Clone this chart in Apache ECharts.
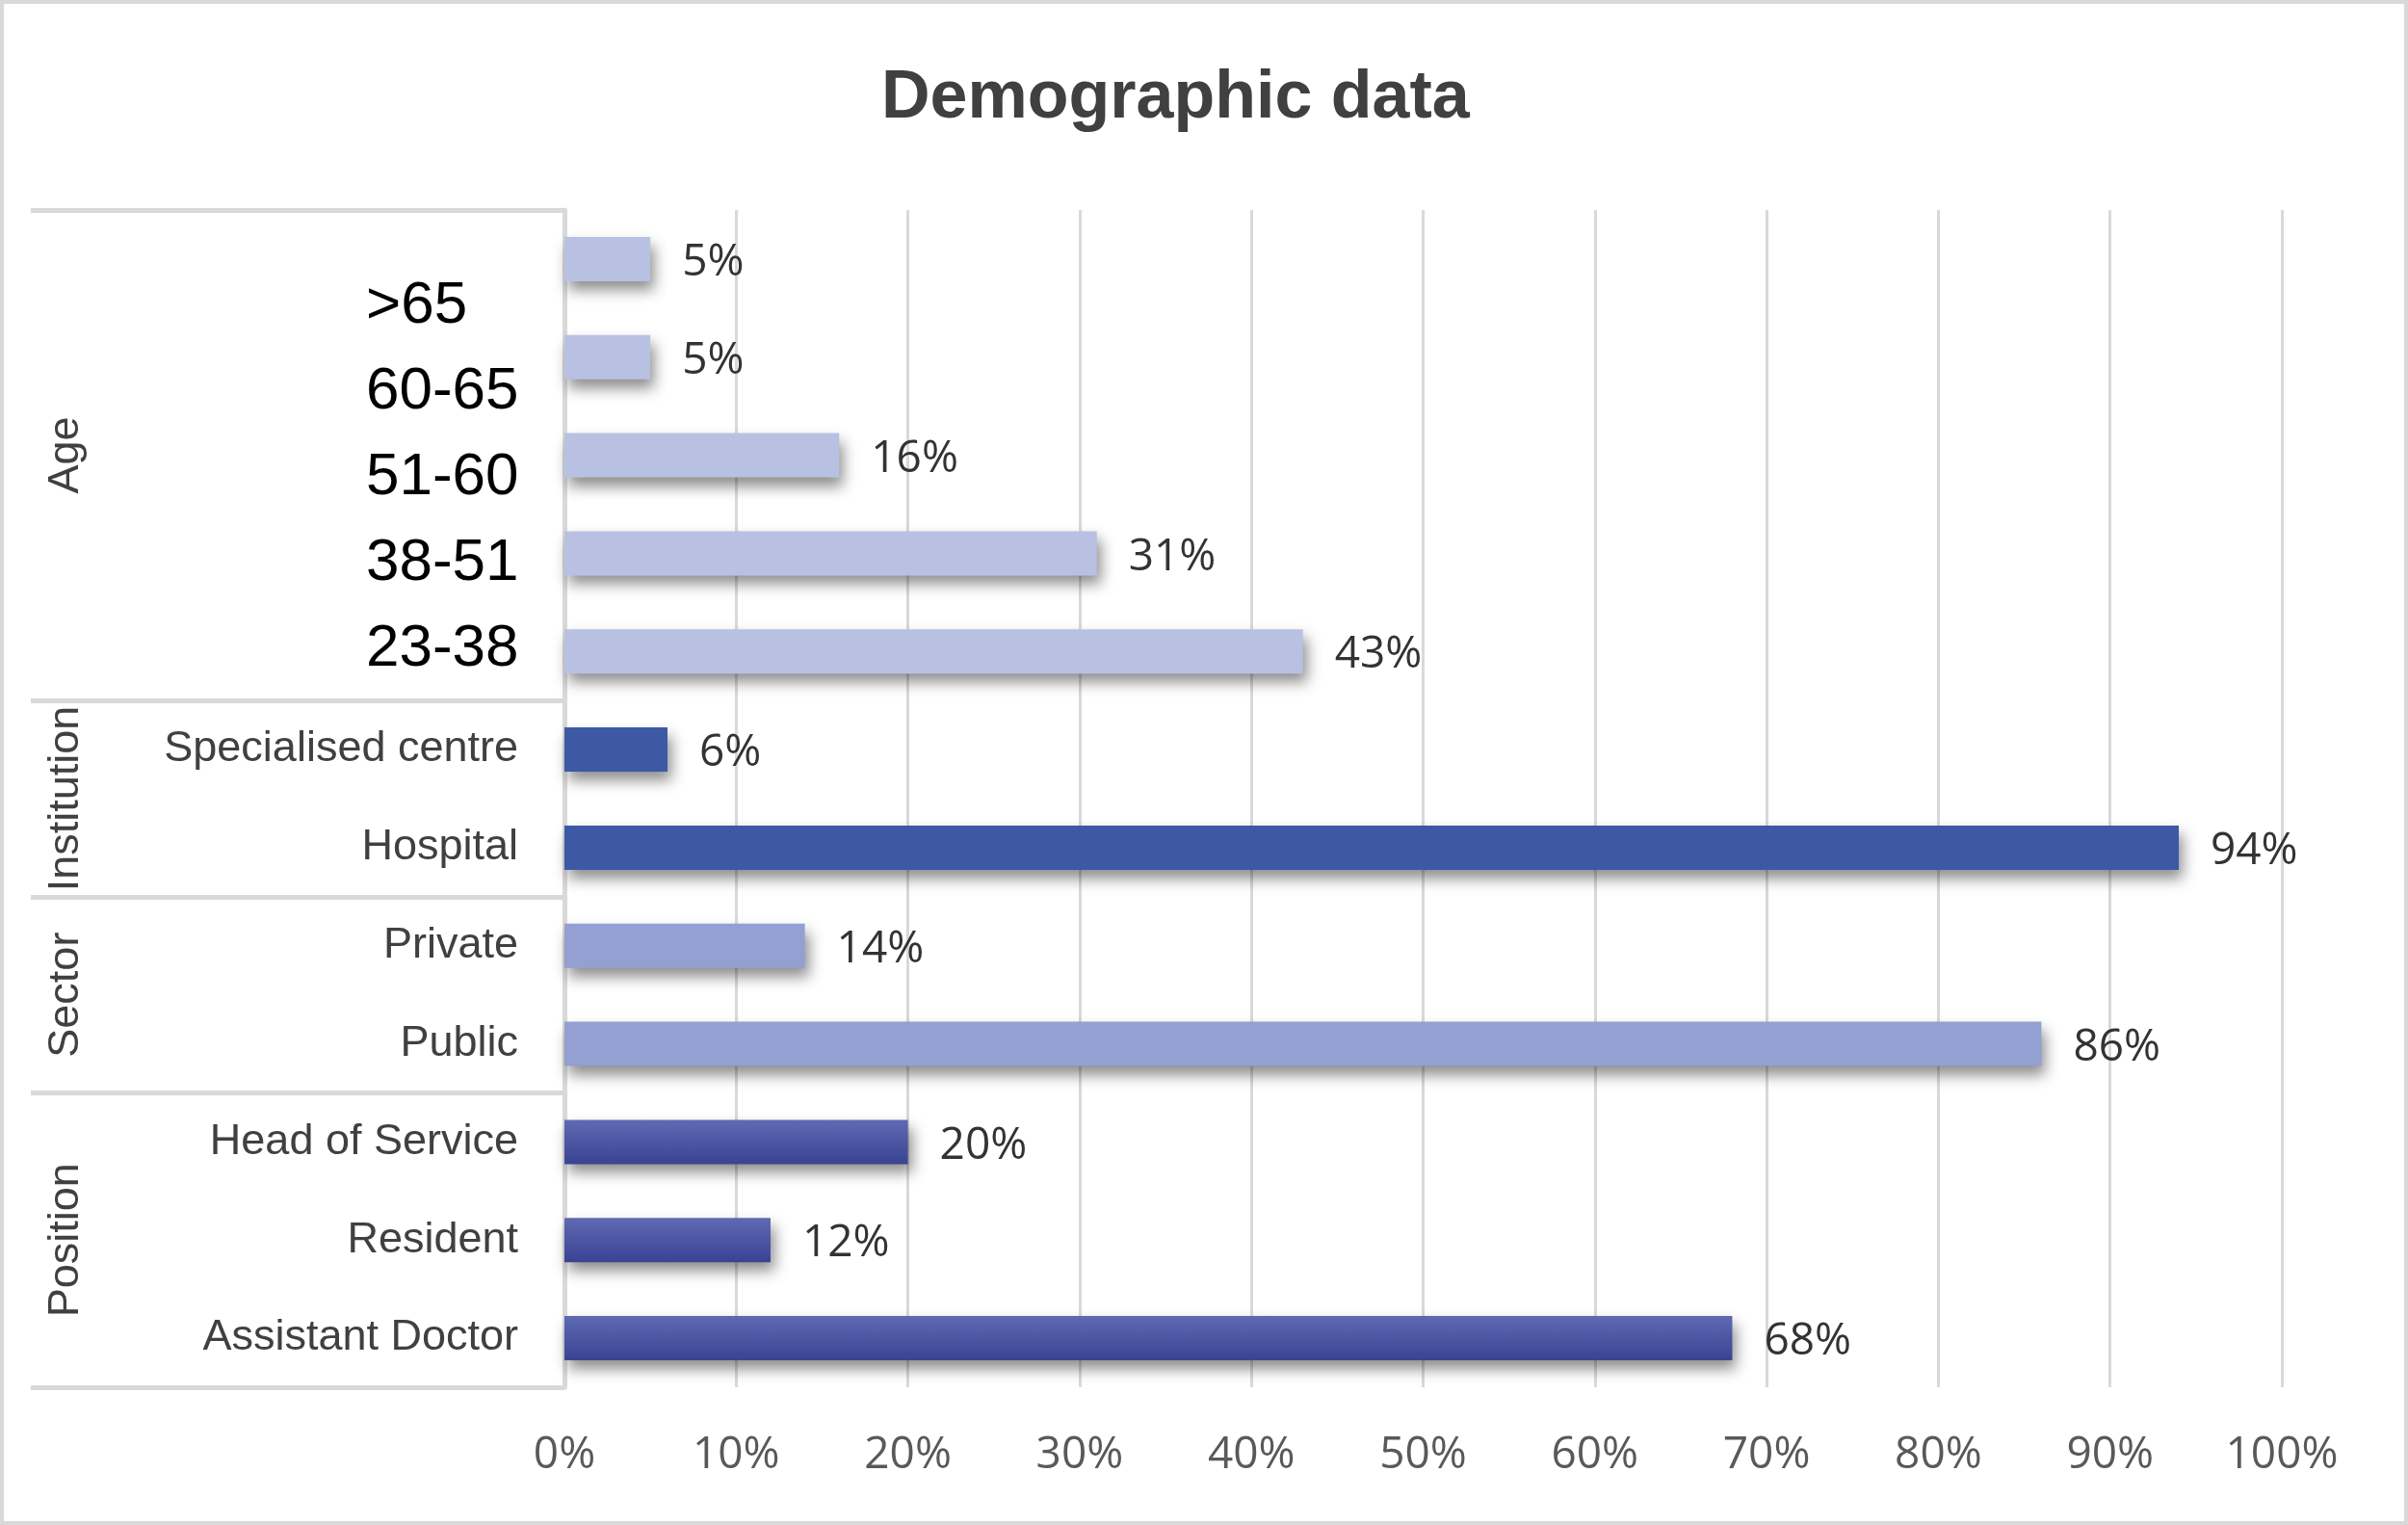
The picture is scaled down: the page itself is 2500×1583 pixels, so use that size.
<!DOCTYPE html>
<html><head><meta charset="utf-8">
<script src="https://cdn.jsdelivr.net/npm/echarts@6/dist/echarts.min.js"></script>
<style>html,body{margin:0;padding:0;background:#fff}#c{width:2500px;height:1583px}</style>
</head><body><div id="c"></div>
<script>
// ---- data ----
const categories = ['>65', '60-65', '51-60', '38-51', '23-38', 'Specialised centre', 'Hospital', 'Private', 'Public', 'Head of Service', 'Resident', 'Assistant Doctor'];
const values = [5, 5, 16, 31, 43, 6, 94, 14, 86, 20, 12, 68];
const groupNames = ['Age', 'Institution', 'Sector', 'Position'];
const groupOf = [0, 0, 0, 0, 0, 1, 1, 2, 2, 3, 3, 3];
const xMin = 0, xMax = 100, xStep = 10;

// ---- styles ----
const ageLabelShift = [49, 36, 23, 10, -2];
const groupColors = [
  '#B9C1E2',
  '#3D58A5',
  '#949FD2',
  new echarts.graphic.LinearGradient(0, 0, 0, 1, [{offset: 0, color: '#6069B2'}, {offset: 1, color: '#3A4393'}])
];
const sansFont = '"Liberation Sans", Arial, Helvetica, sans-serif';
const numFont = '"Open Sans", "Liberation Sans", sans-serif';

const rich = { b: { fontSize: 45, color: '#404040', fontFamily: sansFont } };
ageLabelShift.forEach((s, i) => {
  rich['a' + i] = {
    fontSize: 62, color: '#000000', fontFamily: sansFont,
    width: 158, align: 'left',
    padding: s >= 0 ? [2 * s, 0, 0, 0] : [0, 0, -2 * s, 0]
  };
});

const chart = echarts.init(document.getElementById('c'));
const option = {
  animation: false,
  backgroundColor: '#ffffff',
  title: {
    text: 'Demographic data',
    left: 910, top: 63,
    textStyle: { fontSize: 70, fontWeight: 'bold', color: '#404040', fontFamily: sansFont }
  },
  grid: { left: 586, right: 131, top: 218, bottom: 143, containLabel: false },
  xAxis: {
    type: 'value', min: xMin, max: xMax, interval: xStep,
    axisLine: { show: false }, axisTick: { show: false },
    splitLine: { show: true, lineStyle: { color: '#D9D9D9', width: 3 } },
    axisLabel: { formatter: '{value}%', fontSize: 46, fontFamily: numFont, color: '#595959', margin: 48 }
  },
  yAxis: {
    type: 'category', data: categories, inverse: true,
    axisLine: { show: true, lineStyle: { color: '#D9D9D9', width: 5 } },
    axisTick: {
      show: true, length: 554, inside: false,
      interval: (i) => i === 0 || groupOf[i] !== groupOf[i - 1],
      lineStyle: { color: '#D9D9D9', width: 5 }
    },
    axisLabel: {
      interval: 0, margin: 48,
      formatter: (v, i) => groupOf[i] === 0 ? '{a' + i + '|' + v + '}' : '{b|' + v + '}',
      rich: rich
    }
  },
  series: [{
    type: 'bar',
    barWidth: 46,
    data: values.map((v, i) => ({ value: v, itemStyle: { color: groupColors[groupOf[i]] } })),
    itemStyle: { shadowBlur: 14, shadowColor: 'rgba(0,0,0,0.45)', shadowOffsetX: 4, shadowOffsetY: 9 },
    label: {
      show: true, position: 'right', distance: 33, offset: [0, 4], formatter: '{c}%',
      fontSize: 46, fontFamily: numFont, color: '#333333'
    }
  }]
};
chart.setOption(option);

// group labels positioned from the category axis
const graphics = [{
  type: 'rect', silent: true, z: 100,
  shape: { x: 2, y: 2, width: 2496, height: 1579 },
  style: { fill: 'none', stroke: '#D9D9D9', lineWidth: 4 }
}];
groupNames.forEach((g, gi) => {
  const idx = groupOf.map((v, i) => v === gi ? i : -1).filter(i => i >= 0);
  const y0 = chart.convertToPixel({ yAxisIndex: 0 }, categories[idx[0]]);
  const y1 = chart.convertToPixel({ yAxisIndex: 0 }, categories[idx[idx.length - 1]]);
  graphics.push({
    type: 'text', x: 69, y: (y0 + y1) / 2, rotation: Math.PI / 2,
    style: { text: g, fontSize: 45, fontFamily: sansFont, fill: '#404040', align: 'center', verticalAlign: 'middle' }
  });
});
chart.setOption({ graphic: graphics });
</script></body></html>
